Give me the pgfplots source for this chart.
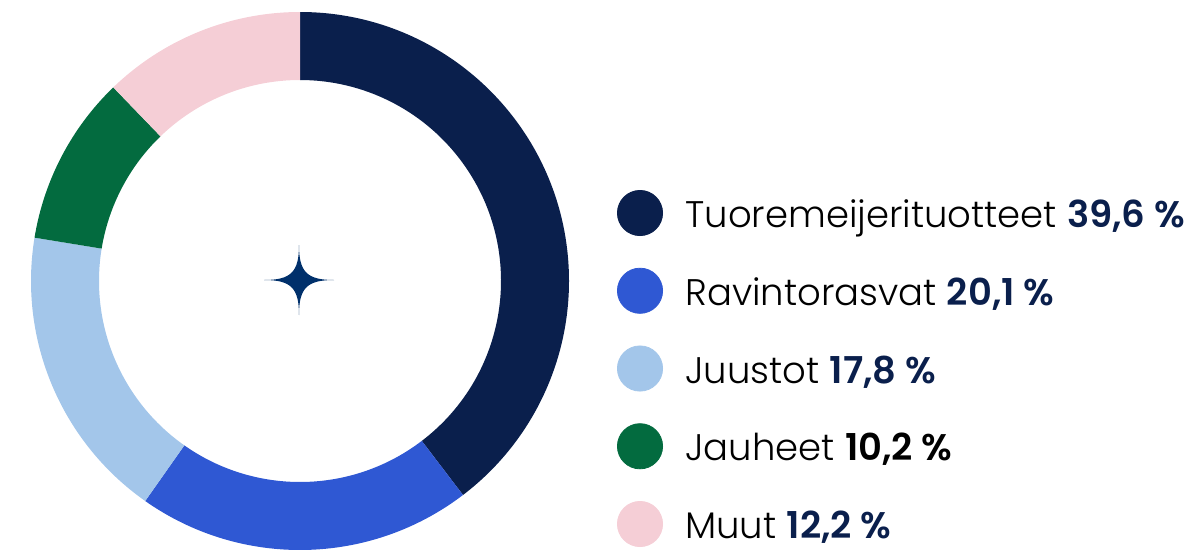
\documentclass[border=0pt]{standalone}
\usepackage{pgfplots}
\pgfplotsset{compat=1.18}
\usepackage{pgfplotstable}
\usepackage{fontspec}
\setmainfont{Poppins}[UprightFont={* Light}, BoldFont={* SemiBold}]
\definecolor{c0}{HTML}{0A1F4C}
\definecolor{c1}{HTML}{2F58D3}
\definecolor{c2}{HTML}{A3C6EA}
\definecolor{c3}{HTML}{036B3F}
\definecolor{c4}{HTML}{F5CED6}
\definecolor{starc}{HTML}{00306B}
\definecolor{numc}{HTML}{0A1F4C}

\pgfplotstableread{
name value
Tuoremeijerituotteet 39.6
Ravintorasvat 20.1
Juustot 17.8
Jauheet 10.2
Muut 12.2
}\shares

\begin{document}%
\begin{tikzpicture}
\def\total{99.9}
\def\cx{300}\def\cy{273}\def\Ro{269}\def\Ri{201}
\def\segs{}
\def\cum{0}
\pgfplotsforeachungrouped \i in {0,...,4}{%
  \pgfplotstablegetelem{\i}{value}\of\shares
  \let\v\pgfplotsretval
  \pgfmathsetmacro\aS{90-360*(\cum/\total)}%
  \pgfmathsetmacro\cumn{\cum+\v}%
  \let\cum\cumn
  \pgfmathsetmacro\aE{90-360*(\cum/\total)}%
  \pgfmathsetmacro\xa{\cx+\Ro*cos(\aS)}%
  \pgfmathsetmacro\ya{\cy+\Ro*sin(\aS)}%
  \pgfmathsetmacro\xb{\cx+\Ri*cos(\aE)}%
  \pgfmathsetmacro\yb{\cy+\Ri*sin(\aE)}%
  \pgfmathsetmacro\rO{\Ro/2}%
  \pgfmathsetmacro\rI{\Ri/2}%
  \xdef\segs{\unexpanded\expandafter{\segs}\noexpand\fill[c\i] (axis cs:\xa,\ya) arc[start angle=\aS, end angle=\aE, radius=\rO pt] -- (axis cs:\xb,\yb) arc[start angle=\aE, end angle=\aS, radius=\rI pt] -- cycle;}%
}%
\begin{axis}[x=0.5pt, y=0.5pt, xmin=0, xmax=1199, ymin=0, ymax=554,
  hide axis, clip=false, scale only axis]
\coordinate (BL) at (axis cs:0,0);
\coordinate (TR) at (axis cs:1199,554);
\segs
% centre star
\fill[starc] (axis cs:299,309) .. controls (axis cs:299,282) and (axis cs:307,274) .. (axis cs:334,274)
  .. controls (axis cs:307,274) and (axis cs:299,266) .. (axis cs:299,239)
  .. controls (axis cs:299,266) and (axis cs:291,274) .. (axis cs:264,274)
  .. controls (axis cs:291,274) and (axis cs:299,282) .. (axis cs:299,309) -- cycle;
% legend markers
\addplot[only marks, mark=*, mark size=11.3pt, c0] coordinates {(640,341)};
\addplot[only marks, mark=*, mark size=11.3pt, c1] coordinates {(640,263.25)};
\addplot[only marks, mark=*, mark size=11.3pt, c2] coordinates {(640,185.5)};
\addplot[only marks, mark=*, mark size=11.3pt, c3] coordinates {(640,107.75)};
\addplot[only marks, mark=*, mark size=11.3pt, c4] coordinates {(640,30)};
\begin{scope}[every node/.style={anchor=base west, inner sep=0pt, font=\fontsize{18.5}{22}\selectfont}]
\node at (axis cs:685,326.5) {Tuoremeijerituotteet \textbf{\color{numc}39,6~\%}};
\node at (axis cs:685,248.75) {Ravintorasvat \textbf{\color{numc}20,1~\%}};
\node at (axis cs:685,171) {Juustot \textbf{\color{numc}17,8~\%}};
\node at (axis cs:685,93.25) {Jauheet \textbf{10,2~\%}};
\node at (axis cs:685,15.5) {Muut \textbf{\color{numc}12,2~\%}};
\end{scope}
\end{axis}
\pgfresetboundingbox
\path[use as bounding box] (BL) rectangle (TR);
\end{tikzpicture}%
\end{document}
